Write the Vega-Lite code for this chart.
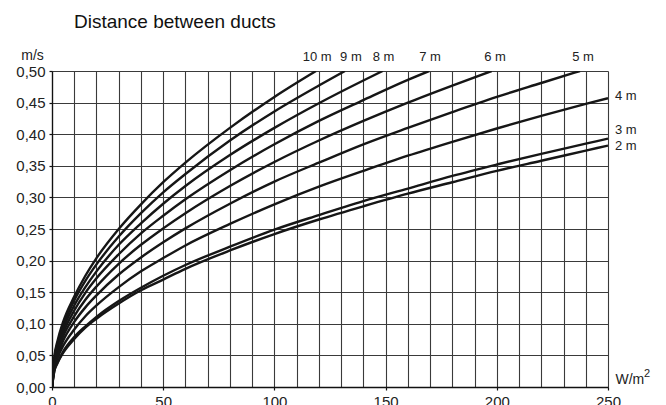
{
  "$schema": "https://vega.github.io/schema/vega-lite/v6.json",
  "autosize": {"type": "none"},
  "width": 556,
  "height": 316,
  "padding": {"left": 52, "top": 71, "right": 58, "bottom": 18},
  "background": "white",
  "title": {
    "text": "Distance between ducts",
    "anchor": "start",
    "frame": "group",
    "dx": 22,
    "offset": 16,
    "font": "Liberation Sans",
    "fontSize": 19,
    "fontWeight": "normal",
    "color": "#111"
  },
  "config": {
    "view": {"stroke": null},
    "font": "Liberation Sans",
    "axis": {
      "labelFont": "Liberation Sans",
      "labelFontSize": 15,
      "labelColor": "#222",
      "domainColor": "#111",
      "domainWidth": 1.3,
      "tickColor": "#111",
      "tickWidth": 1.2,
      "tickSize": 3,
      "gridColor": "#3a3a3a",
      "gridWidth": 1.1,
      "gridOpacity": 1,
      "titleFont": "Liberation Sans",
      "titleFontSize": 14,
      "titleFontWeight": "normal",
      "titleColor": "#222"
    }
  },
  "datasets": {
    "curves": [
      {"d": "10 m", "q": 0, "v": 0}, {"d": "10 m", "q": 1, "v": 0.046}, {"d": "10 m", "q": 2.5, "v": 0.073}, {"d": "10 m", "q": 5, "v": 0.103}, {"d": "10 m", "q": 10, "v": 0.143}, {"d": "10 m", "q": 15, "v": 0.176}, {"d": "10 m", "q": 20, "v": 0.204}, {"d": "10 m", "q": 30, "v": 0.25}, {"d": "10 m", "q": 40, "v": 0.289}, {"d": "10 m", "q": 50, "v": 0.324}, {"d": "10 m", "q": 60, "v": 0.355}, {"d": "10 m", "q": 80, "v": 0.41}, {"d": "10 m", "q": 100, "v": 0.459}, {"d": "10 m", "q": 118.7, "v": 0.5},
      {"d": "9 m", "q": 0, "v": 0}, {"d": "9 m", "q": 1, "v": 0.044}, {"d": "9 m", "q": 2.5, "v": 0.069}, {"d": "9 m", "q": 5, "v": 0.097}, {"d": "9 m", "q": 10, "v": 0.137}, {"d": "9 m", "q": 15, "v": 0.168}, {"d": "9 m", "q": 20, "v": 0.194}, {"d": "9 m", "q": 30, "v": 0.238}, {"d": "9 m", "q": 40, "v": 0.275}, {"d": "9 m", "q": 50, "v": 0.308}, {"d": "9 m", "q": 60, "v": 0.337}, {"d": "9 m", "q": 80, "v": 0.39}, {"d": "9 m", "q": 100, "v": 0.436}, {"d": "9 m", "q": 120, "v": 0.477}, {"d": "9 m", "q": 131.7, "v": 0.5},
      {"d": "8 m", "q": 0, "v": 0}, {"d": "8 m", "q": 1, "v": 0.041}, {"d": "8 m", "q": 2.5, "v": 0.065}, {"d": "8 m", "q": 5, "v": 0.092}, {"d": "8 m", "q": 10, "v": 0.129}, {"d": "8 m", "q": 15, "v": 0.158}, {"d": "8 m", "q": 20, "v": 0.183}, {"d": "8 m", "q": 30, "v": 0.225}, {"d": "8 m", "q": 40, "v": 0.259}, {"d": "8 m", "q": 50, "v": 0.29}, {"d": "8 m", "q": 60, "v": 0.318}, {"d": "8 m", "q": 80, "v": 0.367}, {"d": "8 m", "q": 100, "v": 0.41}, {"d": "8 m", "q": 120, "v": 0.449}, {"d": "8 m", "q": 140, "v": 0.485}, {"d": "8 m", "q": 148.7, "v": 0.5},
      {"d": "7 m", "q": 0, "v": 0}, {"d": "7 m", "q": 1, "v": 0.038}, {"d": "7 m", "q": 2.5, "v": 0.061}, {"d": "7 m", "q": 5, "v": 0.086}, {"d": "7 m", "q": 10, "v": 0.121}, {"d": "7 m", "q": 15, "v": 0.149}, {"d": "7 m", "q": 20, "v": 0.172}, {"d": "7 m", "q": 30, "v": 0.21}, {"d": "7 m", "q": 40, "v": 0.243}, {"d": "7 m", "q": 50, "v": 0.271}, {"d": "7 m", "q": 60, "v": 0.297}, {"d": "7 m", "q": 80, "v": 0.343}, {"d": "7 m", "q": 100, "v": 0.384}, {"d": "7 m", "q": 120, "v": 0.421}, {"d": "7 m", "q": 140, "v": 0.454}, {"d": "7 m", "q": 160, "v": 0.486}, {"d": "7 m", "q": 169.6, "v": 0.5},
      {"d": "6 m", "q": 0, "v": 0}, {"d": "6 m", "q": 1, "v": 0.036}, {"d": "6 m", "q": 2.5, "v": 0.056}, {"d": "6 m", "q": 5, "v": 0.08}, {"d": "6 m", "q": 10, "v": 0.112}, {"d": "6 m", "q": 15, "v": 0.138}, {"d": "6 m", "q": 20, "v": 0.159}, {"d": "6 m", "q": 30, "v": 0.195}, {"d": "6 m", "q": 40, "v": 0.225}, {"d": "6 m", "q": 50, "v": 0.251}, {"d": "6 m", "q": 60, "v": 0.275}, {"d": "6 m", "q": 80, "v": 0.318}, {"d": "6 m", "q": 100, "v": 0.356}, {"d": "6 m", "q": 120, "v": 0.39}, {"d": "6 m", "q": 140, "v": 0.421}, {"d": "6 m", "q": 160, "v": 0.45}, {"d": "6 m", "q": 180, "v": 0.477}, {"d": "6 m", "q": 197.7, "v": 0.5},
      {"d": "5 m", "q": 0, "v": 0}, {"d": "5 m", "q": 1, "v": 0.032}, {"d": "5 m", "q": 2.5, "v": 0.051}, {"d": "5 m", "q": 5, "v": 0.073}, {"d": "5 m", "q": 10, "v": 0.103}, {"d": "5 m", "q": 15, "v": 0.126}, {"d": "5 m", "q": 20, "v": 0.145}, {"d": "5 m", "q": 30, "v": 0.178}, {"d": "5 m", "q": 40, "v": 0.205}, {"d": "5 m", "q": 50, "v": 0.229}, {"d": "5 m", "q": 60, "v": 0.251}, {"d": "5 m", "q": 80, "v": 0.29}, {"d": "5 m", "q": 100, "v": 0.325}, {"d": "5 m", "q": 120, "v": 0.355}, {"d": "5 m", "q": 140, "v": 0.384}, {"d": "5 m", "q": 160, "v": 0.41}, {"d": "5 m", "q": 180, "v": 0.435}, {"d": "5 m", "q": 200, "v": 0.459}, {"d": "5 m", "q": 220, "v": 0.481}, {"d": "5 m", "q": 237.4, "v": 0.5},
      {"d": "4 m", "q": 0, "v": 0}, {"d": "4 m", "q": 1, "v": 0.029}, {"d": "4 m", "q": 2.5, "v": 0.046}, {"d": "4 m", "q": 5, "v": 0.065}, {"d": "4 m", "q": 10, "v": 0.091}, {"d": "4 m", "q": 15, "v": 0.112}, {"d": "4 m", "q": 20, "v": 0.129}, {"d": "4 m", "q": 30, "v": 0.158}, {"d": "4 m", "q": 40, "v": 0.183}, {"d": "4 m", "q": 50, "v": 0.204}, {"d": "4 m", "q": 60, "v": 0.224}, {"d": "4 m", "q": 80, "v": 0.258}, {"d": "4 m", "q": 100, "v": 0.289}, {"d": "4 m", "q": 120, "v": 0.317}, {"d": "4 m", "q": 140, "v": 0.342}, {"d": "4 m", "q": 160, "v": 0.366}, {"d": "4 m", "q": 180, "v": 0.388}, {"d": "4 m", "q": 200, "v": 0.409}, {"d": "4 m", "q": 220, "v": 0.429}, {"d": "4 m", "q": 240, "v": 0.448}, {"d": "4 m", "q": 250, "v": 0.457},
      {"d": "3 m", "q": 0, "v": 0}, {"d": "3 m", "q": 1, "v": 0.025}, {"d": "3 m", "q": 2.5, "v": 0.039}, {"d": "3 m", "q": 5, "v": 0.056}, {"d": "3 m", "q": 10, "v": 0.079}, {"d": "3 m", "q": 15, "v": 0.096}, {"d": "3 m", "q": 20, "v": 0.111}, {"d": "3 m", "q": 30, "v": 0.136}, {"d": "3 m", "q": 40, "v": 0.157}, {"d": "3 m", "q": 50, "v": 0.176}, {"d": "3 m", "q": 60, "v": 0.193}, {"d": "3 m", "q": 80, "v": 0.222}, {"d": "3 m", "q": 100, "v": 0.249}, {"d": "3 m", "q": 120, "v": 0.272}, {"d": "3 m", "q": 140, "v": 0.294}, {"d": "3 m", "q": 160, "v": 0.314}, {"d": "3 m", "q": 180, "v": 0.334}, {"d": "3 m", "q": 200, "v": 0.352}, {"d": "3 m", "q": 220, "v": 0.369}, {"d": "3 m", "q": 240, "v": 0.385}, {"d": "3 m", "q": 250, "v": 0.393},
      {"d": "2 m", "q": 0, "v": 0}, {"d": "2 m", "q": 1, "v": 0.024}, {"d": "2 m", "q": 2.5, "v": 0.038}, {"d": "2 m", "q": 5, "v": 0.054}, {"d": "2 m", "q": 10, "v": 0.076}, {"d": "2 m", "q": 15, "v": 0.094}, {"d": "2 m", "q": 20, "v": 0.108}, {"d": "2 m", "q": 30, "v": 0.132}, {"d": "2 m", "q": 40, "v": 0.153}, {"d": "2 m", "q": 50, "v": 0.17}, {"d": "2 m", "q": 60, "v": 0.187}, {"d": "2 m", "q": 80, "v": 0.216}, {"d": "2 m", "q": 100, "v": 0.242}, {"d": "2 m", "q": 120, "v": 0.265}, {"d": "2 m", "q": 140, "v": 0.286}, {"d": "2 m", "q": 160, "v": 0.306}, {"d": "2 m", "q": 180, "v": 0.324}, {"d": "2 m", "q": 200, "v": 0.342}, {"d": "2 m", "q": 220, "v": 0.358}, {"d": "2 m", "q": 240, "v": 0.374}, {"d": "2 m", "q": 250, "v": 0.382}
    ],
    "topLabels": [
      {"label": "10 m", "q": 119.2, "v": 0.5},
      {"label": "9 m", "q": 134.4, "v": 0.5},
      {"label": "8 m", "q": 149.1, "v": 0.5},
      {"label": "7 m", "q": 170.0, "v": 0.5},
      {"label": "6 m", "q": 199.2, "v": 0.5},
      {"label": "5 m", "q": 238.8, "v": 0.5}
    ],
    "sideLabels": [
      {"label": "4 m", "q": 250, "v": 0.46},
      {"label": "3 m", "q": 250, "v": 0.4066},
      {"label": "2 m", "q": 250, "v": 0.382}
    ],
    "unitSup": [
      {"label": "2", "q": 250, "v": 0}
    ]
  },
  "encoding": {
    "x": {
      "field": "q", "type": "quantitative",
      "scale": {"domain": [0, 250], "nice": false, "zero": true},
      "axis": {
        "values": [0, 10, 20, 30, 40, 50, 60, 70, 80, 90, 100, 110, 120, 130, 140, 150, 160, 170, 180, 190, 200, 210, 220, 230, 240, 250],
        "labelExpr": "datum.value % 50 === 0 ? datum.label : ''",
        "tickOpacity": {"condition": {"test": "datum.value % 50 === 0", "value": 1}, "value": 0},
        "labelPadding": 4,
        "labelFlush": false,
        "labelOverlap": false,
        "title": "W/m",
        "titleAnchor": "start",
        "titleAlign": "left",
        "titleBaseline": "middle",
        "titleX": 563,
        "titleY": -8
      }
    },
    "y": {
      "field": "v", "type": "quantitative",
      "scale": {"domain": [0, 0.5], "nice": false},
      "axis": {
        "values": [0, 0.05, 0.1, 0.15, 0.2, 0.25, 0.3, 0.35, 0.4, 0.45, 0.5],
        "labelExpr": "replace(format(datum.value, '.2f'), '.', ',')",
        "labelPadding": 4,
        "labelOverlap": false,
        "title": "m/s",
        "titleAngle": 0,
        "titleAlign": "center",
        "titleBaseline": "middle",
        "titleX": -20,
        "titleY": -16
      }
    }
  },
  "layer": [
    {
      "data": {"name": "curves"},
      "mark": {"type": "line", "interpolate": "monotone", "stroke": "#161616", "strokeWidth": 2.4, "clip": true},
      "encoding": {
        "detail": {"field": "d", "type": "nominal"},
        "order": {"field": "q", "type": "quantitative"}
      }
    },
    {
      "data": {"name": "topLabels"},
      "mark": {"type": "text", "align": "center", "baseline": "middle", "dy": -14, "fontSize": 13, "color": "#222", "font": "Liberation Sans"},
      "encoding": {
        "text": {"field": "label"}
      }
    },
    {
      "data": {"name": "sideLabels"},
      "mark": {"type": "text", "align": "left", "baseline": "middle", "dx": 7, "fontSize": 13, "color": "#222", "font": "Liberation Sans"},
      "encoding": {
        "text": {"field": "label"}
      }
    },
    {
      "data": {"name": "unitSup"},
      "mark": {"type": "text", "align": "left", "baseline": "middle", "dx": 36, "dy": -13, "fontSize": 11, "color": "#222", "font": "Liberation Sans"},
      "encoding": {
        "text": {"field": "label"}
      }
    }
  ]
}
